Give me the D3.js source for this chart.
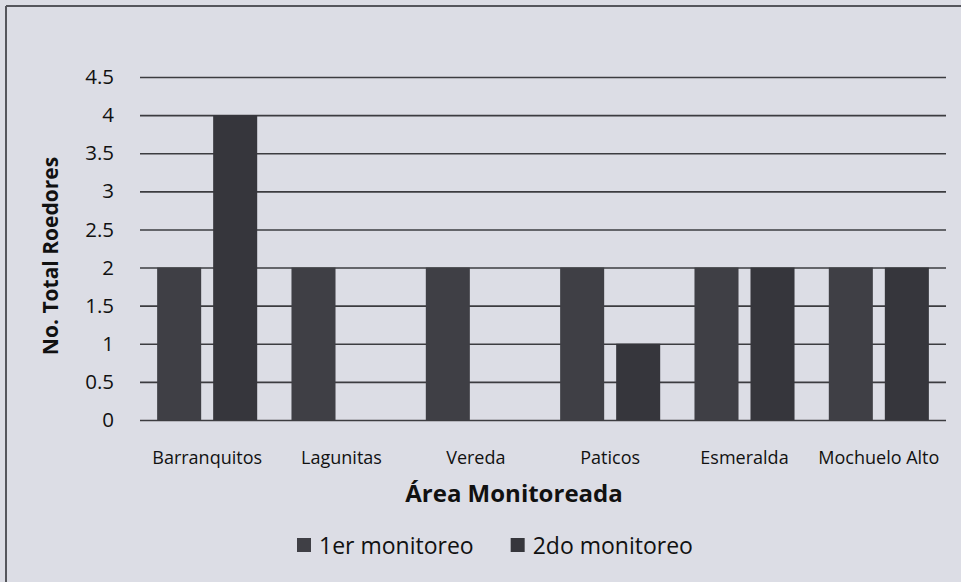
<!DOCTYPE html>
<html>
<head>
<meta charset="utf-8">
<script src="https://cdn.jsdelivr.net/npm/d3@7"></script>
<style>
  html, body { margin: 0; padding: 0; background: #dcdde5; }
  svg { display: block; font-family: "Open Sans", Lato, sans-serif; }
</style>
</head>
<body>
<svg id="chart" width="961" height="582"></svg>
<script>
// data
const areas = ['Barranquitos', 'Lagunitas', 'Vereda', 'Paticos', 'Esmeralda', 'Mochuelo Alto'];
const series = ['1er monitoreo', '2do monitoreo'];
const primerMonitoreo = [2, 2, 2, 2, 2, 2];
const segundoMonitoreo = [4, 0, 0, 1, 2, 2];
const yTicks = [0, 0.5, 1, 1.5, 2, 2.5, 3, 3.5, 4, 4.5];
const yTickLabels = ['0', '0.5', '1', '1.5', '2', '2.5', '3', '3.5', '4', '4.5'];

const colors = ['#3f3f45', '#36363c'];
const values = [primerMonitoreo, segundoMonitoreo];

const svg = d3.select('#chart');

// page frame from the scan
svg.append('line')
  .attr('x1', 6).attr('x2', 961).attr('y1', 6).attr('y2', 6)
  .attr('stroke', '#55565c').attr('stroke-width', 2);
svg.append('line')
  .attr('x1', 6).attr('x2', 6).attr('y1', 6).attr('y2', 582)
  .attr('stroke', '#55565c').attr('stroke-width', 2);

const plotLeft = 140, plotRight = 946, plotTop = 77, plotBottom = 420;

const x0 = d3.scaleBand()
  .domain(areas)
  .range([plotLeft, plotRight]);

const x1 = d3.scaleBand()
  .domain(series)
  .range([0, x0.bandwidth()])
  .paddingInner(0.214)
  .paddingOuter(0.306);

const y = d3.scaleLinear()
  .domain([0, 4.5])
  .range([plotBottom, plotTop]);

// gridlines + tick labels
const yAxis = d3.axisLeft(y)
  .tickValues(yTicks)
  .tickFormat((d, i) => yTickLabels[i])
  .tickSize(-(plotRight - plotLeft))
  .tickPadding(26);

const gy = svg.append('g')
  .attr('transform', `translate(${plotLeft},0)`)
  .call(yAxis);
gy.select('.domain').remove();
gy.selectAll('.tick line')
  .attr('stroke', '#3c3c40')
  .attr('stroke-width', 1.6);
gy.selectAll('.tick text')
  .attr('fill', '#111')
  .style('font-size', '20.5px')
  .style('font-family', '"Open Sans", sans-serif');

// bars
const rows = areas.map((a, i) => ({ area: a, vals: series.map((s, j) => ({ s: s, j: j, v: values[j][i] })) }));

svg.append('g')
  .selectAll('g')
  .data(rows)
  .join('g')
  .attr('transform', d => `translate(${x0(d.area)},0)`)
  .selectAll('rect')
  .data(d => d.vals.filter(b => b.v > 0))
  .join('rect')
  .attr('x', b => x1(b.s))
  .attr('y', b => y(b.v))
  .attr('width', x1.bandwidth())
  .attr('height', b => y(0) - y(b.v))
  .attr('fill', b => colors[b.j]);

// category labels
const xAxis = d3.axisBottom(x0).tickSize(0).tickPadding(0);
const gx = svg.append('g')
  .attr('transform', `translate(0,${plotBottom})`)
  .call(xAxis);
gx.select('.domain').remove();
gx.selectAll('.tick text')
  .attr('y', 38)
  .attr('dy', '0.35em')
  .attr('fill', '#111')
  .style('font-size', '18px')
  .style('font-family', '"Open Sans", sans-serif');

// axis titles
svg.append('text')
  .attr('x', 514).attr('y', 494)
  .attr('text-anchor', 'middle')
  .attr('dy', '0.35em')
  .attr('fill', '#111')
  .style('font-size', '24px')
  .style('font-weight', 'bold')
  .text('Área Monitoreada');

svg.append('text')
  .attr('transform', 'translate(51,256) rotate(-90)')
  .attr('text-anchor', 'middle')
  .attr('dy', '0.35em')
  .attr('fill', '#111')
  .style('font-size', '21px')
  .style('font-weight', 'bold')
  .text('No. Total Roedores');

// legend
const legend = svg.append('g').attr('transform', 'translate(297,546)');
let lx = 0;
series.forEach((s, j) => {
  legend.append('rect')
    .attr('x', lx).attr('y', -8)
    .attr('width', 14).attr('height', 14)
    .attr('fill', colors[j]);
  const t = legend.append('text')
    .attr('x', lx + 22).attr('y', 0)
    .attr('dy', '0.35em')
    .attr('fill', '#111')
    .style('font-size', '23px')
    .text(s);
  lx += 22 + t.node().getComputedTextLength() + 37;
});
</script>
</body>
</html>
